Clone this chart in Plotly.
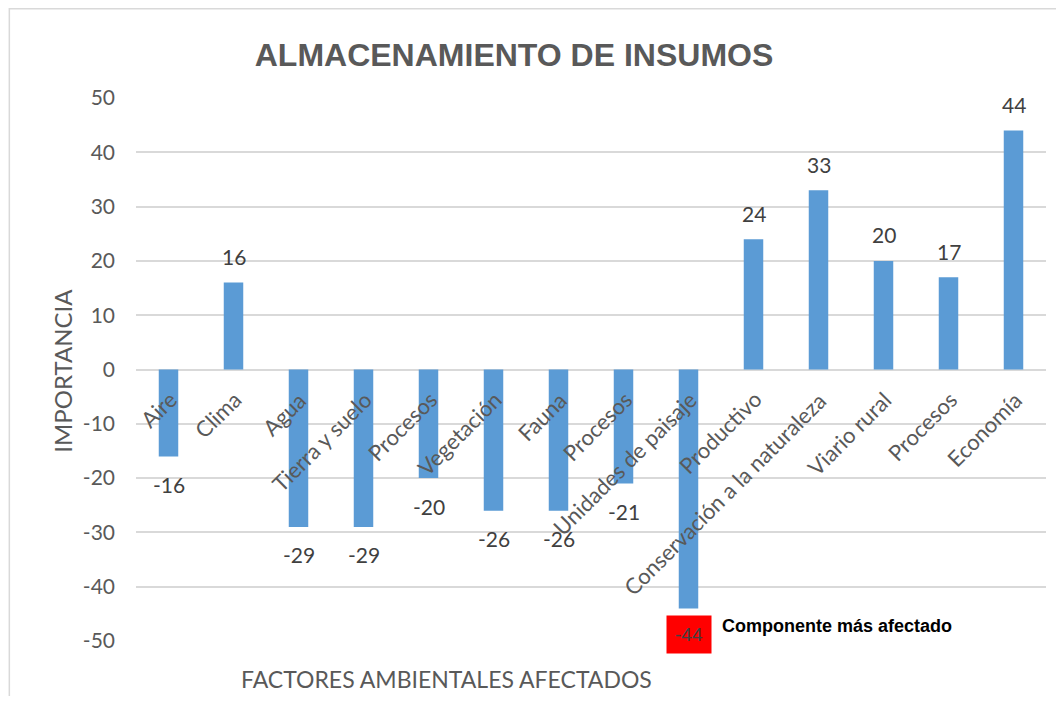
import plotly.graph_objects as go

factores = ["Aire", "Clima", "Agua", "Tierra y suelo", "Procesos", "Vegetación",
            "Fauna", "Procesos", "Unidades de paisaje", "Productivo",
            "Conservación a la naturaleza", "Viario rural", "Procesos", "Economía"]
importancia = [-16, 16, -29, -29, -20, -26, -26, -21, -44, 24, 33, 20, 17, 44]
y_ticks = [-50, -40, -30, -20, -10, 0, 10, 20, 30, 40, 50]
y_tick_text = ["-50", "-40", "-30", "-20", "-10", "0", "10", "20", "30", "40", "50"]

pos = list(range(len(factores)))
gris = "#595959"
texto = "#404040"
fuente = "Lato, Open Sans, sans-serif"

fig = go.Figure()
fig.add_trace(go.Bar(x=pos, y=importancia, width=0.3, marker_color="#5b9bd5",
                     marker_line_width=0, hoverinfo="x+y"))

# etiquetas de categoria sobre el eje cero, giradas
for i, name in zip(pos, factores):
    fig.add_annotation(x=i, y=0, xref="x", yref="y", text=name, showarrow=False,
                       textangle=-45, xanchor="right", yanchor="top",
                       xshift=16, yshift=-14,
                       font=dict(family=fuente, size=22, color=gris))

# etiquetas de valores
peor = importancia.index(min(importancia))
for i, v in zip(pos, importancia):
    if i == peor:
        continue
    fig.add_annotation(x=i, y=v, xref="x", yref="y", text=str(v), showarrow=False,
                       yanchor="middle", yshift=26 if v > 0 else -28,
                       font=dict(family=fuente, size=21, color=texto))

# componente mas afectado
fig.add_annotation(x=peor, y=importancia[peor], xref="x", yref="y",
                   text=str(importancia[peor]), showarrow=False,
                   yanchor="middle", yshift=-26, bgcolor="#ff0000", borderpad=8,
                   font=dict(family="Liberation Sans, Arial", size=19, color=texto))
fig.add_annotation(x=peor, y=importancia[peor], xref="x", yref="y",
                   text="<b>Componente más afectado</b>", showarrow=False,
                   xanchor="left", yanchor="middle", xshift=31, yshift=-18,
                   font=dict(family="Liberation Sans, Arial", size=18, color="black"))

# titulos de ejes
fig.add_annotation(x=-0.0807, y=0.497, xref="paper", yref="paper", text="IMPORTANCIA",
                   showarrow=False, textangle=-90, xanchor="center", yanchor="middle",
                   font=dict(family=fuente, size=24, color=gris))
fig.add_annotation(x=0.3408, y=-0.070, xref="paper", yref="paper",
                   text="FACTORES AMBIENTALES AFECTADOS", showarrow=False,
                   xanchor="center", yanchor="middle",
                   font=dict(family=fuente, size=23, color=gris))

# borde del grafico
fig.add_shape(type="rect", xref="paper", yref="paper", x0=-0.1392, x1=1.03,
              y0=-0.2, y1=1.1645, line=dict(color="#d9d9d9", width=1.5))

fig.update_layout(
    width=1048, height=688,
    margin=dict(l=127.5, r=9.5, t=90, b=55),
    paper_bgcolor="white", plot_bgcolor="white",
    showlegend=False,
    title=dict(text="<b>ALMACENAMIENTO DE INSUMOS</b>", x=506 / 1048,
               xanchor="center", y=1 - 47 / 688, yanchor="middle",
               font=dict(family="Liberation Sans, Arial", size=32, color=gris)),
    xaxis=dict(range=[-0.5, len(factores) - 0.5], showticklabels=False,
               showgrid=False, zeroline=False, showline=False),
    yaxis=dict(range=[-50, 50], tickvals=y_ticks, ticktext=y_tick_text, showgrid=True,
               gridcolor="#d9d9d9", gridwidth=1.5, zeroline=True,
               zerolinecolor="#d9d9d9", zerolinewidth=1.5, showline=False,
               ticklabelstandoff=20,
               tickfont=dict(family=fuente, size=21, color=gris)),
)

fig.write_html("out.html")
